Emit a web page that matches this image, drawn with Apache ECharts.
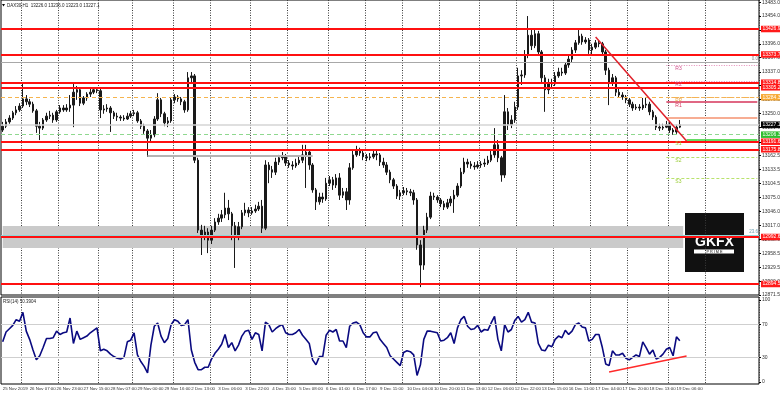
<!DOCTYPE html>
<html><head><meta charset="utf-8">
<script src="https://cdn.jsdelivr.net/npm/echarts@6/dist/echarts.min.js"></script>
<style>html,body{margin:0;padding:0;background:#fff}#c{width:780px;height:395px}</style>
</head><body><div id="c"></div>
<script>
const symbolTitle = 'DAX30,H1  13226.0 13236.0 13223.0 13227.1';
const rsiTitle = 'RSI(14) 50.3904';
const timeLabels = ['25 Nov 2019','26 Nov 07:00','26 Nov 23:00','27 Nov 15:00','28 Nov 07:00','29 Nov 00:00','29 Nov 16:00','2 Dec 13:00','3 Dec 06:00','3 Dec 22:00','4 Dec 15:00','5 Dec 08:00','6 Dec 01:00','6 Dec 17:00','9 Dec 11:00','10 Dec 04:00','10 Dec 20:00','11 Dec 13:00','12 Dec 06:00','12 Dec 22:00','13 Dec 15:00','16 Dec 11:00','17 Dec 04:00','17 Dec 20:00','18 Dec 13:00','19 Dec 06:00'];
const dayStarts = [6,17,29,39,51,62,74,85,97,108,119,130,142,153,164,175,186,198,209];

const open = [
13216,13224,13233,13241,13252,13258,13266,13281,13275,13270,
13256,13224,13220,13237,13245,13247,13237,13254,13262,13258,
13262,13268,13295,13300,13272,13283,13291,13295,13300,13298,
13258,13260,13262,13252,13245,13243,13241,13239,13245,13250,
13252,13235,13224,13214,13199,13206,13239,13279,13250,13231,
13235,13279,13285,13281,13275,13258,13325,13329,13153,13007,
12995,13003,12986,13007,13024,13032,13039,13053,13041,13016,
12995,13014,13043,13049,13043,13047,13051,13057,13011,13143,
13133,13128,13149,13158,13162,13147,13143,13141,13147,13153,
13164,13170,13143,13091,13066,13076,13072,13105,13112,13101,
13116,13080,13087,13070,13137,13164,13174,13168,13160,13158,
13160,13166,13164,13149,13143,13128,13112,13099,13078,13085,
13089,13087,13085,13070,12976,12934,13007,13034,13078,13076,
13070,13062,13055,13064,13072,13080,13099,13128,13149,13145,
13141,13139,13143,13145,13147,13153,13164,13185,13158,13122,
13254,13227,13237,13264,13329,13331,13373,13414,13392,13417,
13379,13325,13300,13314,13312,13329,13337,13335,13352,13364,
13383,13398,13412,13400,13404,13383,13389,13398,13396,13379,
13341,13316,13325,13295,13289,13285,13279,13270,13262,13264,
13262,13268,13270,13254,13243,13222,13220,13222,13227,13216,
13212,13222];
const close = [
13224,13233,13241,13252,13258,13266,13281,13275,13270,13256,
13224,13220,13237,13245,13247,13237,13254,13262,13258,13262,
13268,13295,13300,13272,13283,13291,13295,13300,13298,13258,
13260,13262,13252,13245,13243,13241,13239,13245,13250,13252,
13235,13224,13214,13199,13206,13239,13279,13250,13231,13235,
13279,13285,13281,13275,13258,13325,13329,13153,13007,12995,
13003,12986,13007,13024,13032,13039,13053,13041,13016,12995,
13014,13043,13049,13043,13047,13051,13057,13011,13143,13133,
13128,13149,13158,13162,13147,13143,13141,13147,13153,13164,
13170,13143,13091,13066,13076,13072,13105,13112,13101,13116,
13080,13087,13070,13137,13164,13174,13168,13160,13158,13160,
13166,13164,13149,13143,13128,13112,13099,13078,13085,13089,
13087,13085,13070,12976,12934,13007,13034,13078,13076,13070,
13062,13055,13064,13072,13080,13099,13128,13149,13145,13141,
13139,13143,13145,13147,13153,13164,13185,13158,13122,13254,
13227,13237,13264,13329,13331,13373,13414,13392,13417,13379,
13325,13300,13314,13312,13329,13337,13335,13352,13364,13383,
13398,13412,13400,13404,13383,13389,13398,13396,13379,13341,
13316,13325,13295,13289,13285,13279,13270,13262,13264,13262,
13268,13270,13254,13243,13222,13220,13222,13227,13216,13212,
13222,13227.1];
const low = [
13212,13220,13229,13237,13247,13254,13262,13268,13264,13252,
13210,13195,13216,13233,13239,13231,13233,13250,13254,13254,
13254,13222,13279,13266,13268,13277,13285,13291,13293,13241,
13250,13254,13212,13239,13235,13235,13235,13237,13241,13245,
13231,13218,13208,13160,13191,13201,13235,13243,13224,13222,
13231,13272,13275,13268,13252,13254,13316,13147,13001,12955,
12986,12959,12978,13003,13018,13024,13032,13028,12986,12928,
12986,13009,13037,13034,13039,13043,13047,13001,13007,13105,
13116,13122,13143,13153,13141,13137,13133,13137,13143,13147,
13095,13133,13085,13049,13060,13064,13068,13099,13091,13095,
13070,13074,13049,13060,13133,13160,13162,13153,13151,13153,
13156,13153,13141,13137,13122,13105,13093,13072,13070,13080,
13080,13078,13060,12966,12888,12924,13001,13030,13070,13064,
13055,13049,13051,13057,13043,13076,13095,13124,13137,13135,
13133,13135,13137,13139,13143,13149,13158,13149,13108,13116,
13216,13220,13231,13258,13310,13325,13366,13383,13387,13373,
13316,13254,13291,13304,13308,13325,13329,13331,13346,13358,
13377,13394,13394,13396,13375,13373,13385,13389,13373,13331,
13268,13308,13287,13283,13279,13272,13264,13256,13258,13256,
13258,13262,13247,13237,13216,13214,13216,13220,13210,13206,
13208,13220];
const high = [
13233,13239,13247,13256,13266,13272,13314,13289,13281,13275,
13260,13233,13241,13252,13256,13252,13258,13268,13268,13270,
13289,13314,13308,13304,13287,13295,13302,13304,13304,13302,
13268,13270,13266,13256,13252,13247,13247,13252,13256,13258,
13256,13239,13229,13218,13216,13245,13293,13283,13254,13243,
13285,13291,13289,13285,13279,13337,13337,13333,13158,13018,
13016,13011,13016,13032,13041,13049,13085,13070,13045,13024,
13024,13049,13064,13055,13055,13060,13066,13070,13153,13149,
13141,13158,13164,13170,13166,13153,13151,13156,13162,13185,
13185,13176,13147,13095,13085,13085,13116,13120,13118,13124,
13126,13095,13095,13147,13174,13183,13179,13174,13166,13168,
13174,13176,13168,13158,13149,13133,13116,13103,13091,13097,
13095,13093,13091,13074,12986,13016,13043,13087,13085,13080,
13074,13068,13072,13078,13091,13105,13137,13158,13156,13151,
13149,13151,13151,13156,13162,13174,13220,13195,13162,13289,
13262,13247,13275,13346,13341,13383,13454,13425,13425,13423,
13383,13331,13323,13323,13337,13346,13346,13358,13371,13389,
13404,13425,13417,13410,13408,13396,13404,13404,13400,13383,
13346,13333,13329,13302,13295,13289,13283,13275,13270,13270,
13283,13283,13275,13258,13247,13229,13229,13235,13233,13220,
13227,13237];
const rsi = [
49,61,65,69,76,74,85,62,52,39,
27,32,42,53,53,54,62,58,60,61,
78,47,62,52,54,56,60,63,66,38,
40,38,34,31,29,28,30,49,51,60,
33,25,19,11,45,68,72,56,48,53,
70,76,74,69,70,76,39,24,15,15,
18,18,28,35,40,46,58,42,48,38,
45,56,62,63,52,60,58,38,73,70,
61,65,68,70,60,58,58,60,64,57,
52,47,27,21,31,31,57,63,61,64,
50,50,42,68,72,73,70,60,55,55,
60,61,52,47,42,32,28,24,20,36,
38,37,33,8,21,52,62,62,61,60,
50,51,54,60,47,66,76,80,68,64,
65,69,61,64,63,72,80,52,38,70,
61,64,75,80,73,76,85,73,72,47,
39,38,45,43,52,56,54,63,58,62,
70,72,67,66,50,52,58,58,42,22,
20,38,33,33,35,29,27,30,33,31,
49,42,34,39,28,30,34,40,42,32,
55,50.39];

const priceTicks = [13483.0,13454.0,13425.0,13396.0,13367.0,13337.0,13308.5,13279.5,13250.0,13221.0,13191.5,13162.5,13133.5,13104.5,13075.0,13046.0,13017.0,12988.0,12958.5,12929.5,12900.0,12871.5];
const rsiTicks = [0, 30, 70, 100];
const rsiLevels = [30, 70];

const redLevels = [13426.9, 13373.7, 13314.8, 13305.2, 13191.6, 13175.8, 12992.6, 12894.5];
const bidPrice = 13227.1;
const greenLevel = 13206.3;
const orangeLevel = 13284.3;
const fibNames = ['0.0', '23.6'];
const fibValues = [13358.0, 12996.8];
const zoneTop = 13015.6, zoneBottom = 12969.7;
const supportSegment = 13161.8;
const peachLevel = 13241.1;
const pivotNames = ['R3', 'R2', 'R1', 'PP', 'S1', 'S2', 'S3'];
const pivotValues = [13351.8, 13318.4, 13274.5, 13284.3, 13195.2, 13159.7, 13115.8];
const trendStart = [176, 13410.2], trendEnd = [203, 13193.1];
const rsiTrendStart = [180, 12.2], rsiTrendEnd = [203, 31.7];

// ---------------------------------------------------------------
const FONT = '"Liberation Sans", Arial, sans-serif';
const slots = Array.from({length: 225}, (_, i) => String(i));
const ohlc = open.map((o, i) => [o, close[i], low[i], high[i]]);
const LAST = slots.length - 1;
const PIV_START = 197;

function boxLabel(v, bg, fg) {
  return {show: true, position: 'end', distance: 2, formatter: v.toFixed(1),
    backgroundColor: bg, color: fg, fontSize: 5, fontFamily: FONT, padding: [1, 1.5, 0.5, 1.5], lineHeight: 5};
}
function full(v, style, label) {
  return {yAxis: v, lineStyle: style, label: label || {show: false}};
}
function seg(x0, x1, v, style, label) {
  return [{coord: [x0, v], lineStyle: style, label: label || {show: false}}, {coord: [x1, v]}];
}
function pivLabel(name, color) {
  return {show: true, position: 'insideStartBottom', distance: [9, 1], formatter: name, color: color, fontSize: 5, fontFamily: FONT};
}

const pivStyles = [
  {color: '#e58bb8', width: 1, type: [1, 1.5]},
  {color: '#e58bb8', width: 1, type: [1, 1.5]},
  {color: '#d6345a', width: 1.5, type: 'solid'},
  {color: '#f3b35a', width: 1, type: [3, 2]},
  {color: '#2fd12f', width: 1.5, type: 'solid'},
  {color: '#b8e26c', width: 1, type: [3, 2]},
  {color: '#b8e26c', width: 1, type: [3, 2]}
];
const pivTextColors = ['#d04c88', '#d04c88', '#d6345a', '#e8a040', '#99cc33', '#99cc33', '#99cc33'];

const mainLines = [];
mainLines.push(full(fibValues[0], {color: '#a8a8a8', width: 1, type: 'solid'},
  {show: true, position: 'insideEndTop', distance: 1, formatter: fibNames[0], color: '#888', fontSize: 4.5, fontFamily: FONT}));
mainLines.push(full(fibValues[1], {color: '#8fd6d6', width: 1, type: 'solid'},
  {show: true, position: 'insideEndTop', distance: 1, formatter: fibNames[1], color: '#6a9fb0', fontSize: 4.5, fontFamily: FONT}));
mainLines.push(full(bidPrice, {color: '#d4d4d4', width: 1.5, type: 'solid'}, boxLabel(bidPrice, '#000', '#fff')));
mainLines.push(full(greenLevel, {color: '#8fd88f', width: 1, type: [4, 3]}, boxLabel(greenLevel, '#2ebd2e', '#fff')));
mainLines.push(full(orangeLevel, {color: '#f6b44e', width: 1, type: [4, 3]}, boxLabel(orangeLevel, '#f7a832', '#fff')));
redLevels.forEach(v => mainLines.push(full(v, {color: '#ff1010', width: 2, type: 'solid'}, boxLabel(v, '#ff1a1a', '#fff'))));
mainLines.push(seg(43, 92, supportSegment, {color: '#b4b4b4', width: 2, type: 'solid'}));
mainLines.push(seg(PIV_START, LAST, peachLevel, {color: '#f7ad93', width: 2, type: 'solid'}));
pivotNames.forEach((n, i) => {
  const start = n === 'S1' ? 203 : PIV_START;
  mainLines.push(seg(start, LAST, pivotValues[i], pivStyles[i]));
  mainLines.push(seg(PIV_START, PIV_START + 6, pivotValues[i], {color: 'rgba(0,0,0,0)', width: 0.1, type: 'solid'}, pivLabel(n, pivTextColors[i])));
});
mainLines.push([{coord: trendStart, lineStyle: {color: '#e0202a', width: 1.5, type: 'solid'}, label: {show: false}},
                {coord: trendEnd}]);

const splitSep = {
  show: true,
  interval: (idx) => dayStarts.includes(idx),
  lineStyle: {color: '#3a3a3a', width: 1, type: [1, 1.5]}
};

const option = {
  backgroundColor: '#ffffff',
  animation: false,
  textStyle: {fontFamily: FONT},
  grid: [
    {left: 1, top: 0, width: 758, height: 295, show: true, borderColor: '#000', borderWidth: 1, backgroundColor: 'transparent', outerBoundsMode: 'none', containLabel: false},
    {left: 1, top: 297, width: 758, height: 87, show: true, borderColor: '#000', borderWidth: 1, backgroundColor: 'transparent', outerBoundsMode: 'none', containLabel: false}
  ],
  xAxis: [
    {type: 'category', gridIndex: 0, data: slots, boundaryGap: true,
     axisLine: {show: false}, axisTick: {show: false}, axisLabel: {show: false}, splitLine: splitSep},
    {type: 'category', gridIndex: 1, data: slots, boundaryGap: true,
     axisLine: {show: false}, axisTick: {show: false}, splitLine: splitSep,
     axisLabel: {show: true, showMinLabel: true, hideOverlap: false,
       interval: (idx) => idx % 8 === 0 && idx / 8 < timeLabels.length,
       formatter: (v) => timeLabels[Math.round(+v / 8)] || '', align: 'left', margin: 3,
       fontSize: 4.4, color: '#333', fontFamily: FONT}}
  ],
  yAxis: [
    {type: 'value', gridIndex: 0, position: 'right', min: 12871.5, max: 13487.5, scale: true,
     axisLine: {show: false}, splitLine: {show: false},
     axisTick: {show: true, customValues: priceTicks, length: 2, lineStyle: {color: '#000'}},
     axisLabel: {show: true, customValues: priceTicks, formatter: (v) => v.toFixed(1), margin: 3,
       fontSize: 5, color: '#333', fontFamily: FONT}},
    {type: 'value', gridIndex: 1, position: 'right', min: -2.44, max: 103.66,
     axisLine: {show: false}, splitLine: {show: false},
     axisTick: {show: true, customValues: rsiTicks, length: 2, lineStyle: {color: '#000'}},
     axisLabel: {show: true, customValues: rsiTicks, margin: 3, fontSize: 5, color: '#333', fontFamily: FONT}}
  ],
  series: [
    {type: 'candlestick', xAxisIndex: 0, yAxisIndex: 0, data: ohlc, barWidth: 2, silent: true,
     itemStyle: {color: '#1a1a1a', color0: '#1a1a1a', borderColor: '#1a1a1a', borderColor0: '#1a1a1a', borderWidth: 1},
     markArea: {silent: true, itemStyle: {color: '#cacaca'},
       data: [[{coord: [0, zoneTop]}, {coord: [202, zoneBottom]}]]},
     markLine: {silent: true, symbol: ['none', 'none'], animation: false, data: mainLines}
    },
    {type: 'line', xAxisIndex: 1, yAxisIndex: 1, data: rsi, symbol: 'none', silent: true,
     lineStyle: {color: '#0a0a80', width: 1.6},
     markLine: {silent: true, symbol: ['none', 'none'], animation: false,
       data: rsiLevels.map(v => ({yAxis: v, lineStyle: {color: '#cfcfcf', width: 1, type: 'solid'}, label: {show: false}}))
         .concat([[{coord: rsiTrendStart, lineStyle: {color: '#ff2a2a', width: 1.5, type: 'solid'}, label: {show: false}}, {coord: rsiTrendEnd}]])}
    }
  ],
  graphic: [
    {type: 'polygon', shape: {points: [[2, 4], [5, 4], [3.5, 6.5]]}, style: {fill: '#000'}},
    {type: 'text', left: 7, top: 3, style: {text: symbolTitle, fontSize: 4.5, fill: '#222', fontFamily: FONT}},
    {type: 'text', left: 3, top: 299, style: {text: rsiTitle, fontSize: 4.5, fill: '#222', fontFamily: FONT}},
    {type: 'group', left: 685, top: 213, children: [
      {type: 'rect', shape: {x: 0, y: 0, width: 59, height: 59}, style: {fill: '#111'}},
      {type: 'text', x: 29.5, y: 29, style: {text: 'GKFX', fontSize: 14, fontWeight: 'bold', fill: '#fff', align: 'center', verticalAlign: 'middle', fontFamily: FONT}},
      {type: 'rect', shape: {x: 9, y: 36.5, width: 40, height: 4}, style: {fill: '#fff'}},
      {type: 'text', x: 29.5, y: 38.7, style: {text: 'P R I M E', fontSize: 3.8, fill: '#111', align: 'center', verticalAlign: 'middle', fontFamily: FONT}}
    ]}
  ]
};
const chart = echarts.init(document.getElementById('c'));
chart.setOption(option);
</script>
</body></html>
